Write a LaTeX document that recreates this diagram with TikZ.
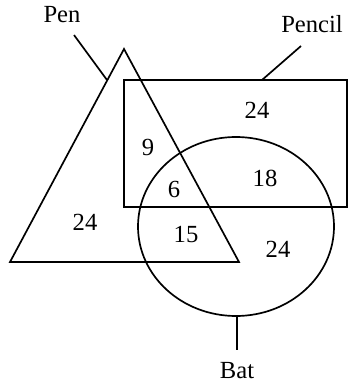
\documentclass[tikz,border=0pt]{standalone}
\usepackage{fontspec}
\setmainfont{Liberation Serif}
\usetikzlibrary{positioning}

\tikzset{
  venn/.style={line width=1.2pt},
  num/.style={font=\fontsize{17.5}{20}\selectfont},
  setname/.style={font=\fontsize{17.5}{20}\selectfont}
}

\begin{document}
\begin{tikzpicture}[x=0.025cm, y=-0.025cm]
\useasboundingbox (0,0) rectangle (349,387);

% the three sets
\coordinate (apex) at (124,49);
\coordinate (baseL) at (10,262);
\coordinate (baseR) at (239,262);
\draw[venn] (apex) -- (baseL) -- (baseR) -- cycle;
\draw[venn] (124,80) rectangle (347,207);
\draw[venn] (236,226.5) ellipse [x radius=98, y radius=89.5];

% names and pointers
\node[setname] (pen) at (62,15) {Pen};
\node[setname] (pencil) at (312,24) {Pencil};
\node[setname] (bat) at (237,371) {Bat};
\coordinate (penA) at (74,35);
\coordinate (penB) at (107,80);
\coordinate (pencilA) at (301,46);
\coordinate (pencilB) at (262,80);
\coordinate (batA) at (237,316);
\coordinate (batB) at (237,350);
\draw[venn] (penA) -- (penB);
\draw[venn] (pencilA) -- (pencilB);
\draw[venn] (batA) -- (batB);

% region counts
\node[num] (nPencil) at (257,110) {24};
\node[num] (nPenPencil) at (148,147) {9};
\node[num] (nPencilBat) at (265,178) {18};
\node[num] (nAll) at (174,189) {6};
\node[num] (nPen) at (85,222) {24};
\node[num] (nPenBat) at (186,234) {15};
\node[num] (nBat) at (278,249) {24};
\end{tikzpicture}
\end{document}
